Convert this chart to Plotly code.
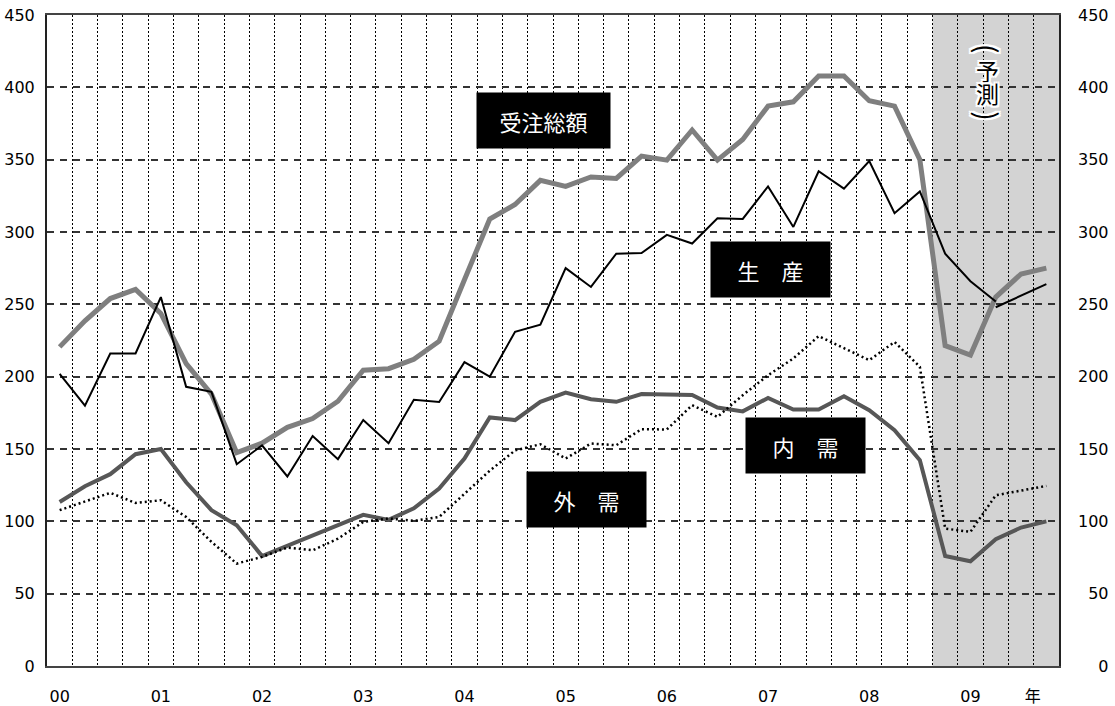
import plotly.graph_objects as go

# Quarterly index values, 2000Q1 .. 2009Q4 (40 quarters)
year_labels = ["00", "01", "02", "03", "04", "05", "06", "07", "08", "09", "年"]
quarters = list(range(40))

order_total = [220.6, 238.6, 254, 260.3, 243.7, 209, 188, 147.5, 154, 165,
               171, 183, 204.5, 205.5, 212, 224.5, 267, 309, 319, 335.7,
               331.5, 338, 337, 352.5, 349.7, 370.5, 349.7, 364, 387, 390,
               407.8, 407.8, 390.7, 387, 350, 221.5, 215, 255, 271, 275]

production = [202, 180, 216, 216, 255, 193, 189.5, 139.5, 152.5, 131,
              159, 143, 170, 154, 184, 182.5, 210, 200, 231, 236,
              275, 262, 285, 285.5, 298, 292, 309.5, 309, 331.5, 303.5,
              342, 330, 349, 313, 328, 285, 266, 252]
production_outlook = [248, 256, 264]

domestic = [113.4, 124.3, 132.6, 146.4, 150, 127, 107.7, 97.3, 76, 83,
            90, 97, 104.5, 101, 109, 122.7, 143.4, 171.8, 170, 182.6,
            189, 184.4, 182.6, 188, 187.7, 187.4, 178.7, 176, 185.3, 177.3,
            177.3, 186.5, 176.8, 163, 142.3, 76, 72.4, 87.6, 95.7, 100]

foreign = [107.7, 113.9, 119.7, 112.7, 114.6, 103, 85.8, 70.8, 75.4, 81.9,
           80, 88, 99.6, 102, 100.3, 103, 119, 135, 149, 153.3,
           143.4, 153.8, 152.6, 163.7, 163.5, 180.3, 172.2, 187.2, 201, 212.6,
           228, 219.5, 211.4, 224, 206.8, 95, 92.7, 118, 121, 124.5]

y_ticks = list(range(0, 451, 50))
forecast_start = 34.5  # boundary before 2008Q4

tick_font = dict(family="DejaVu Sans, Noto Sans CJK JP", size=16, color="black")
label_font = dict(family="Noto Sans CJK JP", size=22, color="white")
halo = ("2px 0 0 #fff, -2px 0 0 #fff, 0 2px 0 #fff, 0 -2px 0 #fff, "
        "2px 2px 0 #fff, -2px -2px 0 #fff, 2px -2px 0 #fff, -2px 2px 0 #fff")

fig = go.Figure()

fig.add_trace(go.Scatter(x=quarters, y=order_total, mode="lines",
                         line=dict(color="#7f7f7f", width=5), name="受注総額"))
fig.add_trace(go.Scatter(x=quarters, y=domestic, mode="lines",
                         line=dict(color="#575757", width=4), name="内需"))
fig.add_trace(go.Scatter(x=quarters, y=foreign, mode="lines",
                         line=dict(color="black", width=2.5, dash="2px,3px"), name="外需"))
fig.add_trace(go.Scatter(x=quarters[:len(production)], y=production, mode="lines",
                         line=dict(color="black", width=2), name="生産"))
fig.add_trace(go.Scatter(x=quarters[37:], y=production_outlook, mode="lines",
                         line=dict(color="black", width=2), name="生産（予測）"))
# anchor trace for the right-hand value axis
fig.add_trace(go.Scatter(x=[None], y=[None], yaxis="y2", showlegend=False,
                         hoverinfo="skip"))

# forecast period shading
fig.add_shape(type="rect", xref="x", yref="y", x0=forecast_start, x1=39.5,
              y0=0, y1=450, fillcolor="#d3d3d3", line=dict(width=0), layer="below")

# series labels
boxes = [
    ("受注総額", 19.11, 377.4, 133),
    ("生　産", 28.08, 274.3, 119),
    ("内　需", 29.47, 152.2, 119),
    ("外　需", 20.84, 115.4, 119),
]
for text, bx, by, bw in boxes:
    fig.add_annotation(x=bx, y=by, xref="x", yref="y", text=text, showarrow=False,
                       bgcolor="black", width=bw, height=55, borderpad=0,
                       font=label_font, align="center", valign="middle")

# vertical "（予測）" marker in the forecast band
vertical_label = [("(", 426.5, 90, 28), ("予", 412.0, 0, 23),
                  ("測", 396.0, 0, 23), (")", 380.0, 90, 28)]
for ch, cy, ang, size in vertical_label:
    fig.add_annotation(x=36.69, y=cy, xref="x", yref="y", text=ch, showarrow=False,
                       textangle=ang,
                       font=dict(family="Noto Sans CJK JP", size=size, color="black",
                                 shadow=halo))

fig.update_layout(
    width=1115, height=706,
    margin=dict(l=47, r=56, t=15, b=40),
    paper_bgcolor="white", plot_bgcolor="white",
    showlegend=False,
    xaxis=dict(
        range=[-0.5, 39.5],
        tickmode="array",
        tickvals=[0, 4, 8, 12, 16, 20, 24, 28, 32, 36, 38.46],
        ticktext=year_labels,
        tickfont=tick_font,
        ticks="", ticklabelstandoff=15, automargin=False,
        showgrid=False, zeroline=False,
        showline=True, linecolor="#444", linewidth=2, mirror=True,
        minor=dict(tickmode="linear", tick0=-0.5, dtick=1, showgrid=True,
                   gridcolor="black", gridwidth=1, griddash="2px,2px"),
    ),
    yaxis=dict(
        range=[0, 450],
        tickmode="array", tickvals=y_ticks, ticktext=[str(v) for v in y_ticks],
        tickfont=tick_font, ticks="", ticklabelstandoff=7, automargin=False,
        showgrid=True, gridcolor="#333", gridwidth=1.5, griddash="7px,6px",
        zeroline=False,
        showline=True, linecolor="#222", linewidth=2, mirror=True,
    ),
    yaxis2=dict(
        range=[0, 450], overlaying="y", side="right",
        tickmode="array", tickvals=y_ticks,
        ticktext=[str(v).rjust(3, "\u2007") for v in y_ticks],
        tickfont=tick_font, ticks="", ticklabelstandoff=18, automargin=False,
        showgrid=False, zeroline=False, showline=False,
    ),
)

fig.write_html("out.html")
